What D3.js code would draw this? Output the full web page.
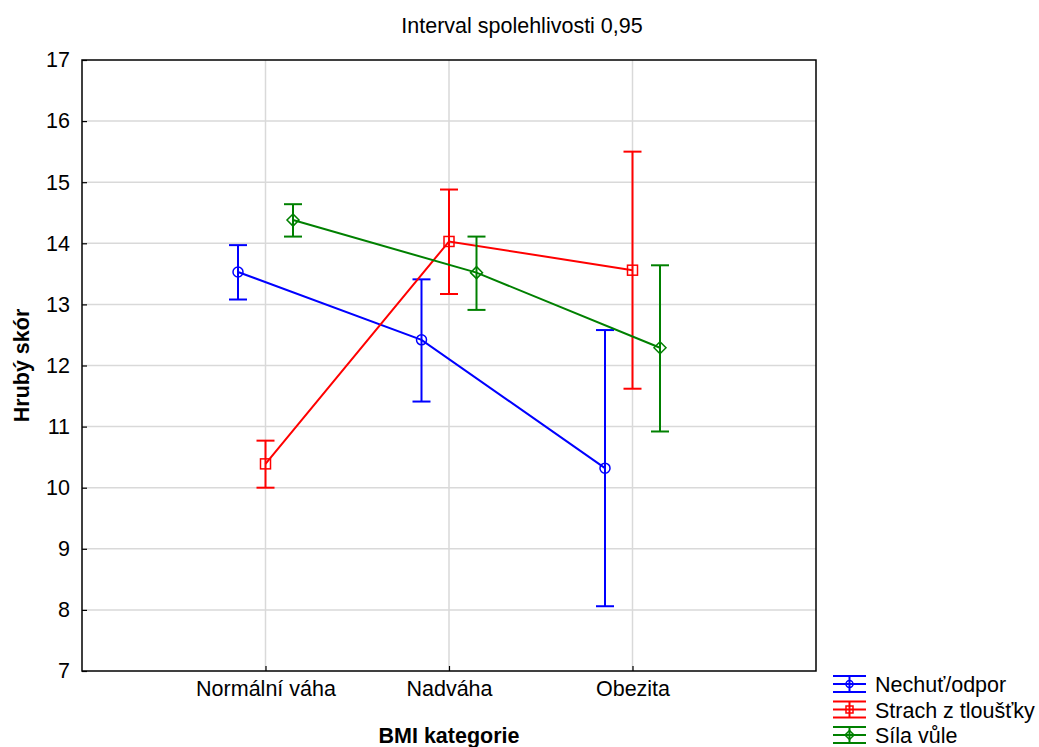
<!DOCTYPE html>
<html>
<head>
<meta charset="utf-8">
<script src="https://cdn.jsdelivr.net/npm/d3@7"></script>
<style>
  body { margin: 0; background: #fff; }
  text { font-family: "Liberation Sans", Arial, sans-serif; fill: #000; }
</style>
</head>
<body>
<div id="chart"></div>
<script>
var categories = ["Normální váha", "Nadváha", "Obezita"]
var seriesNames = ["Nechuť/odpor", "Strach z tloušťky", "Síla vůle"]
var seriesColors = ["#0000ff", "#ff0000", "#008000"]
var seriesMarkers = ["circle", "square", "diamond"]
var meanNechut = [13.53, 12.42, 10.32]
var lowNechut = [13.08, 11.41, 8.06]
var highNechut = [13.97, 13.41, 12.58]
var meanStrach = [10.39, 14.03, 13.56]
var lowStrach = [10.00, 13.17, 11.62]
var highStrach = [10.77, 14.88, 15.50]
var meanSila = [14.38, 13.52, 12.29]
var lowSila = [14.11, 12.91, 10.92]
var highSila = [14.64, 14.11, 13.64]
var yTicks = [7, 8, 9, 10, 11, 12, 13, 14, 15, 16, 17]

var series = [
  { name: seriesNames[0], mean: meanNechut, low: lowNechut, high: highNechut },
  { name: seriesNames[1], mean: meanStrach, low: lowStrach, high: highStrach },
  { name: seriesNames[2], mean: meanSila, low: lowSila, high: highSila }
]

function drawChart(target) { //{{{
  var W = 1039, H = 747
  var margin = { top: 60, right: 223, bottom: 76, left: 82 }
  var width = W - margin.left - margin.right,
      height = H - margin.top - margin.bottom
  var fs = "21.5px"

  var xScale = d3.scalePoint()
    .domain(categories)
    .range([0, width])
    .padding(1)

  var offset = 27.5
  var yScale = d3.scaleLinear()
    .domain([7, 17])
    .range([height, 0])

  var svg = d3.select(target).append("svg")
    .attr("width", W)
    .attr("height", H)
  var g = svg.append("g")
    .attr("transform", "translate(" + margin.left + "," + margin.top + ")")

  // grid
  g.selectAll(".hgrid").data(yTicks.slice(1, -1))
    .enter().append("line")
      .attr("x1", 0).attr("x2", width)
      .attr("y1", d => yScale(d)).attr("y2", d => yScale(d))
      .attr("stroke", "#d9d9d9").attr("stroke-width", 1.5)
  g.selectAll(".vgrid").data(categories)
    .enter().append("line")
      .attr("x1", d => xScale(d)).attr("x2", d => xScale(d))
      .attr("y1", 0).attr("y2", height)
      .attr("stroke", "#d9d9d9").attr("stroke-width", 1.5)

  // axes
  var yAxis = g.append("g")
    .call(d3.axisLeft(yScale).tickValues(yTicks).tickSizeInner(-5).tickSizeOuter(0).tickPadding(12))
  yAxis.select(".domain").remove()
  yAxis.selectAll("text").style("font-size", fs)
  yAxis.selectAll("line").attr("stroke-width", 1.2)

  var xAxis = g.append("g")
    .attr("transform", "translate(0," + height + ")")
    .call(d3.axisBottom(xScale).tickSizeInner(-5).tickSizeOuter(0).tickPadding(10))
  xAxis.select(".domain").remove()
  xAxis.selectAll("text").style("font-size", fs)
  xAxis.selectAll("line").attr("stroke-width", 1.2)

  g.append("rect")
    .attr("width", width).attr("height", height)
    .attr("fill", "none").attr("stroke", "#000").attr("stroke-width", 1.5)

  var line = d3.line()

  function marker(sel, type, color, size) {
    if (type == "circle")
      sel.append("circle").attr("r", size).attr("fill", "none")
        .attr("stroke", color).attr("stroke-width", 1.5)
    else if (type == "square")
      sel.append("rect").attr("x", -size).attr("y", -size)
        .attr("width", size * 2).attr("height", size * 2)
        .attr("fill", "none").attr("stroke", color).attr("stroke-width", 1.5)
    else
      sel.append("path")
        .attr("d", "M0," + (-size - 1) + "L" + (size + 1) + ",0L0," + (size + 1) + "L" + (-size - 1) + ",0Z")
        .attr("fill", "none").attr("stroke", color).attr("stroke-width", 1.5)
  }

  series.forEach((s, i) => {
    var color = seriesColors[i]
    var dx = (i - 1) * offset
    var pts = categories.map((c, j) => [xScale(c) + dx, yScale(s.mean[j])])

    g.append("path")
      .attr("d", line(pts))
      .attr("fill", "none").attr("stroke", color).attr("stroke-width", 2)

    var eb = g.selectAll(".eb" + i).data(categories)
      .enter().append("g")
        .attr("transform", d => "translate(" + (xScale(d) + dx) + ",0)")
    eb.append("line")
      .attr("y1", (d, j) => yScale(s.low[j])).attr("y2", (d, j) => yScale(s.high[j]))
      .attr("stroke", color).attr("stroke-width", 2)
    eb.append("line")
      .attr("x1", -9).attr("x2", 9)
      .attr("y1", (d, j) => yScale(s.low[j])).attr("y2", (d, j) => yScale(s.low[j]))
      .attr("stroke", color).attr("stroke-width", 2)
    eb.append("line")
      .attr("x1", -9).attr("x2", 9)
      .attr("y1", (d, j) => yScale(s.high[j])).attr("y2", (d, j) => yScale(s.high[j]))
      .attr("stroke", color).attr("stroke-width", 2)

    categories.forEach((c, j) => {
      var m = g.append("g")
        .attr("transform", "translate(" + pts[j][0] + "," + pts[j][1] + ")")
      marker(m, seriesMarkers[i], color, 5)
    })
  })

  // title and axis labels
  svg.append("text")
    .attr("x", 522).attr("y", 33)
    .attr("text-anchor", "middle").style("font-size", fs)
    .text("Interval spolehlivosti 0,95")

  svg.append("text")
    .attr("x", margin.left + width / 2).attr("y", 743)
    .attr("text-anchor", "middle").style("font-size", fs).style("font-weight", "bold")
    .text("BMI kategorie")

  svg.append("text")
    .attr("transform", "translate(29," + (margin.top + height / 2) + ") rotate(-90)")
    .attr("text-anchor", "middle").style("font-size", fs).style("font-weight", "bold")
    .text("Hrubý skór")

  // legend
  var legend = svg.append("g").attr("transform", "translate(833,684)")
  seriesNames.forEach((n, i) => {
    var color = seriesColors[i]
    var row = legend.append("g").attr("transform", "translate(0," + (i * 25.5) + ")")
    row.append("line").attr("x1", 0).attr("x2", 33).attr("y1", 0).attr("y2", 0)
      .attr("stroke", color).attr("stroke-width", 2)
    row.append("line").attr("x1", 0).attr("x2", 33).attr("y1", -8).attr("y2", -8)
      .attr("stroke", color).attr("stroke-width", 2)
    row.append("line").attr("x1", 0).attr("x2", 33).attr("y1", 8).attr("y2", 8)
      .attr("stroke", color).attr("stroke-width", 2)
    row.append("line").attr("x1", 16.5).attr("x2", 16.5).attr("y1", -8).attr("y2", 8)
      .attr("stroke", color).attr("stroke-width", 2)
    var m = row.append("g").attr("transform", "translate(16.5,0)")
    marker(m, seriesMarkers[i], color, 3.5)
    row.append("text")
      .attr("x", 42).attr("y", 8)
      .style("font-size", fs)
      .text(n)
  })
} //}}}

drawChart("#chart")
</script>
</body>
</html>
